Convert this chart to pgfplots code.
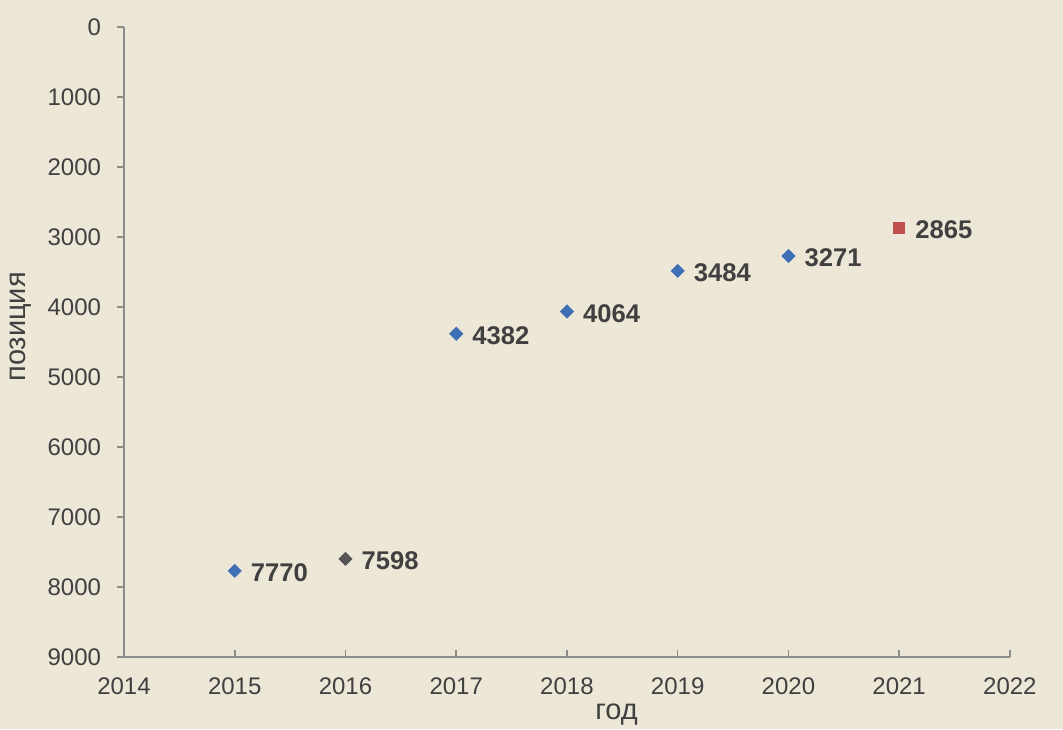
\documentclass[border=0pt]{standalone}
\usepackage{pgfplots}
\pgfplotsset{compat=1.18}
\usepackage{fontspec}
\setmainfont{Liberation Sans}
\definecolor{bgc}{HTML}{EDE7D8}
\definecolor{txt}{HTML}{404040}
\definecolor{axc}{HTML}{8C8C8C}
\definecolor{bluem}{HTML}{3F6FB5}
\definecolor{greym}{HTML}{555555}
\definecolor{redm}{HTML}{C0504D}
\begin{document}
\begin{tikzpicture}
\useasboundingbox (-62pt,-36pt) rectangle (469.5pt,328.5pt);
\fill[bgc] (-62pt,-36pt) rectangle (469.5pt,328.5pt);
\begin{axis}[
  at={(0,0)}, anchor=south west,
  scale only axis, width=443pt, height=315pt,
  xmin=2014, xmax=2022, ymin=0, ymax=9000,
  y dir=reverse,
  axis x line*=bottom, axis y line*=left,
  axis line style={axc, line width=0.8pt},
  xtick={2014,...,2022}, ytick={0,1000,...,9000},
  xtick align=inside, ytick align=outside,
  major tick length=3.5pt,
  tick style={axc, line width=0.8pt},
  x tick label style={/pgf/number format/1000 sep={}, text=txt, font=\fontsize{12}{14}\selectfont, yshift=-7pt},
  y tick label style={/pgf/number format/1000 sep={}, text=txt, font=\fontsize{12}{14}\selectfont, xshift=-4.5pt},
  /pgf/number format/assume math mode=true,
  scaled y ticks=false,
  xlabel={год}, ylabel={позиция},
  xlabel style={text=txt, font=\fontsize{14.5}{16}\selectfont, at={(axis description cs:0.556,-0.092)}, anchor=center},
  ylabel style={text=txt, font=\fontsize{14.5}{16}\selectfont, at={(axis description cs:-0.117,0.524)}, anchor=center, rotate=0},
  clip=false,
  nodes near coords, point meta=explicit symbolic,
  every node near coord/.append style={anchor=west, xshift=4.5pt, yshift=-1pt, text=txt, font=\bfseries\fontsize{12.8}{14}\selectfont},
]
\addplot[only marks, mark=square*, mark size=2.3pt, mark options={rotate=45}, color=bluem] coordinates {
  (2015,7770) [7770]
  (2017,4382) [4382]
  (2018,4064) [4064]
  (2019,3484) [3484]
  (2020,3271) [3271]
};
\addplot[only marks, mark=square*, mark size=2.3pt, mark options={rotate=45}, color=greym] coordinates {
  (2016,7598) [7598]
};
\addplot[only marks, mark=square*, mark size=2.8pt, color=redm] coordinates {
  (2021,2865) [2865]
};
\end{axis}
\end{tikzpicture}
\end{document}
